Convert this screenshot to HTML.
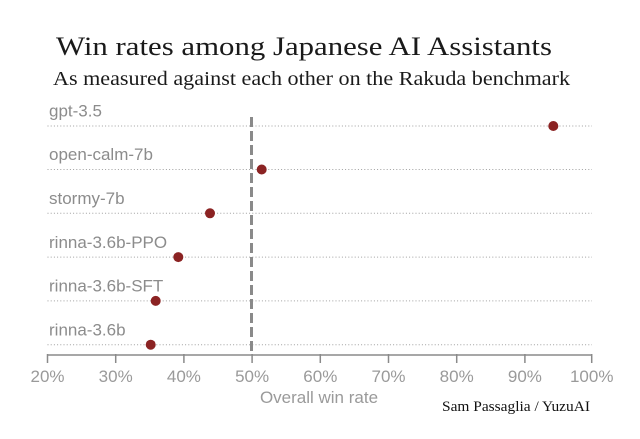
<!DOCTYPE html>
<html>
<head>
<meta charset="utf-8">
<style>
  html, body { margin: 0; padding: 0; background: #ffffff; }
  svg { display: block; }
</style>
</head>
<body>
<svg width="640" height="439" viewBox="0 0 640 439" xmlns="http://www.w3.org/2000/svg">
  <rect width="640" height="439" fill="#ffffff"/>
  <!-- Title -->
  <text x="56" y="55" font-family="'Liberation Serif', serif" font-size="26" fill="#1a1a1a" textLength="496" lengthAdjust="spacingAndGlyphs">Win rates among Japanese AI Assistants</text>
  <text x="53" y="85" font-family="'Liberation Serif', serif" font-size="20" fill="#1a1a1a" textLength="517" lengthAdjust="spacingAndGlyphs">As measured against each other on the Rakuda benchmark</text>

  <!-- Dotted row lines -->
  <g stroke="#a0a0a0" stroke-width="1" stroke-dasharray="1 2.2">
    <line x1="47.5" y1="126" x2="592" y2="126"/>
    <line x1="47.5" y1="169.5" x2="592" y2="169.5"/>
    <line x1="47.5" y1="213.3" x2="592" y2="213.3"/>
    <line x1="47.5" y1="257.1" x2="592" y2="257.1"/>
    <line x1="47.5" y1="300.9" x2="592" y2="300.9"/>
    <line x1="47.5" y1="344.7" x2="592" y2="344.7"/>
  </g>

  <!-- Row labels -->
  <g font-family="'Liberation Sans', sans-serif" font-size="17" fill="#8c8c8c">
    <text x="49" y="116.5">gpt-3.5</text>
    <text x="49" y="160">open-calm-7b</text>
    <text x="49" y="204">stormy-7b</text>
    <text x="49" y="248">rinna-3.6b-PPO</text>
    <text x="49" y="291.5">rinna-3.6b-SFT</text>
    <text x="49" y="335.5">rinna-3.6b</text>
  </g>

  <!-- 50% dashed reference -->
  <line x1="251.5" y1="117" x2="251.5" y2="355" stroke="#8a8a8a" stroke-width="3" stroke-dasharray="10 4"/>

  <!-- Axis -->
  <g stroke="#8a8a8a" stroke-width="1.5" fill="none">
    <line x1="47.5" y1="355" x2="591.7" y2="355"/>
    <line x1="47.5" y1="354" x2="47.5" y2="363"/>
    <line x1="115.7" y1="354" x2="115.7" y2="363"/>
    <line x1="183.9" y1="354" x2="183.9" y2="363"/>
    <line x1="252.1" y1="354" x2="252.1" y2="363"/>
    <line x1="320.3" y1="354" x2="320.3" y2="363"/>
    <line x1="388.5" y1="354" x2="388.5" y2="363"/>
    <line x1="456.7" y1="354" x2="456.7" y2="363"/>
    <line x1="524.9" y1="354" x2="524.9" y2="363"/>
    <line x1="591.7" y1="354" x2="591.7" y2="363"/>
  </g>
  <g font-family="'Liberation Sans', sans-serif" font-size="17" fill="#9a9a9a" text-anchor="middle">
    <text x="47.5" y="382">20%</text>
    <text x="115.7" y="382">30%</text>
    <text x="183.9" y="382">40%</text>
    <text x="252.1" y="382">50%</text>
    <text x="320.3" y="382">60%</text>
    <text x="388.5" y="382">70%</text>
    <text x="456.7" y="382">80%</text>
    <text x="524.9" y="382">90%</text>
    <text x="591.7" y="382">100%</text>
  </g>
  <text x="319" y="403" font-family="'Liberation Sans', sans-serif" font-size="17" fill="#9a9a9a" text-anchor="middle">Overall win rate</text>

  <!-- Points -->
  <g fill="#8b2323">
    <circle cx="553.3" cy="126" r="5"/>
    <circle cx="261.7" cy="169.5" r="5"/>
    <circle cx="210" cy="213.3" r="5"/>
    <circle cx="178.3" cy="257.1" r="5"/>
    <circle cx="155.7" cy="300.9" r="5"/>
    <circle cx="150.7" cy="344.7" r="5"/>
  </g>

  <!-- Credit -->
  <text x="442" y="411" font-family="'Liberation Serif', serif" font-size="15" fill="#111111" textLength="148" lengthAdjust="spacingAndGlyphs">Sam Passaglia / YuzuAI</text>
</svg>
</body>
</html>
